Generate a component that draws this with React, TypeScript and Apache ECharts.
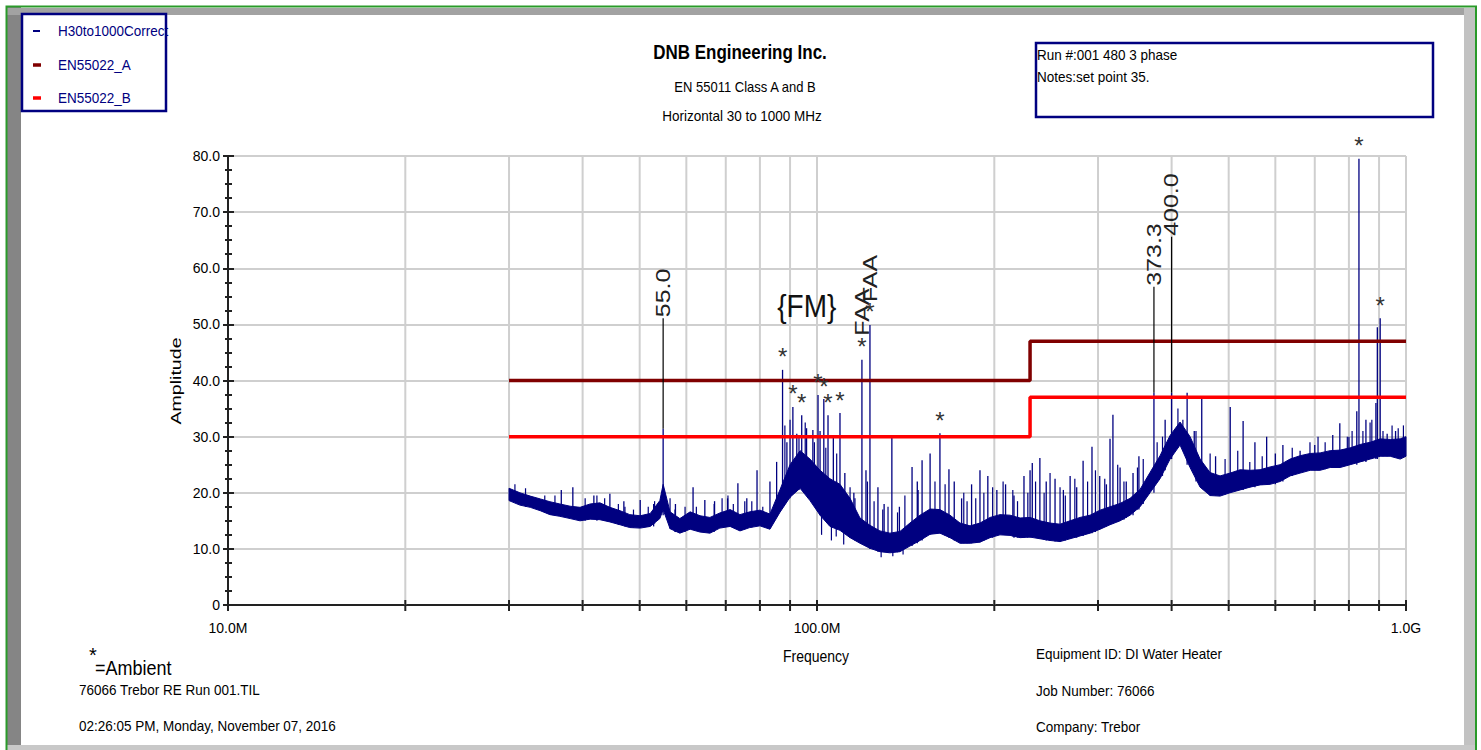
import React, { useEffect, useRef } from 'react';
import * as echarts from 'echarts';

const FONT = '"Liberation Sans", Arial, sans-serif';

// ---- data ----
const floorFreq = [
  30.0, 31.3, 32.6, 33.9, 35.2, 36.6, 38.1, 39.6, 41.2, 42.8,
  44.5, 46.3, 48.1, 50.1, 52.1, 54.1, 54.8, 56.3, 58.5, 60.9,
  63.3, 65.8, 68.4, 71.2, 74.0, 76.9, 80.0, 83.2, 86.5, 90.0,
  93.6, 97.3, 101.2, 105.2, 109.4, 113.8, 118.3, 123.0, 127.9, 133.0,
  138.3, 143.8, 149.6, 155.6, 161.7, 168.2, 174.9, 181.9, 189.1, 196.7,
  204.5, 212.7, 221.2, 230.0, 239.1, 248.7, 258.6, 268.9, 279.6, 290.8,
  302.4, 314.4, 327.0, 340.0, 353.6, 367.6, 382.3, 397.6, 413.4, 429.9,
  447.1, 464.9, 483.4, 502.8, 522.8, 543.6, 565.3, 587.9, 611.3, 635.7,
  661.1, 687.5, 714.9, 743.4, 773.1, 803.9, 836.0, 869.4, 904.1, 940.1,
  977.6, 1000.0,
];
const floorHigh = [
  20.8, 20.0, 19.4, 18.9, 18.4, 18.0, 17.6, 17.4, 18.0, 18.2,
  17.4, 16.8, 16.1, 15.9, 16.3, 18.6, 21.5, 16.6, 15.4, 16.6,
  15.9, 15.6, 16.4, 17.0, 16.1, 16.6, 16.9, 16.2, 20.5, 25.0,
  27.5, 26.0, 24.0, 22.5, 21.5, 19.0, 15.5, 14.2, 13.2, 12.8,
  13.1, 14.6, 16.0, 17.1, 17.0, 16.0, 14.6, 14.1, 14.6, 15.6,
  16.1, 16.0, 15.5, 15.6, 15.0, 14.6, 14.4, 15.0, 15.6, 16.0,
  16.9, 17.5, 18.1, 19.0, 20.6, 23.6, 26.6, 30.2, 32.6, 30.0,
  26.0, 23.6, 23.0, 23.5, 24.1, 24.0, 24.1, 24.6, 25.0, 26.0,
  26.6, 27.0, 27.1, 27.5, 27.6, 28.0, 28.6, 29.0, 29.6, 29.5,
  29.6, 30.0,
];
const floorLow = [
  18.6, 17.8, 17.4, 16.8, 16.1, 15.8, 15.4, 15.0, 15.3, 15.2,
  14.8, 14.3, 13.8, 13.7, 14.0, 15.4, 17.0, 13.6, 12.8, 13.5,
  13.0, 12.8, 13.7, 14.0, 13.2, 13.8, 14.1, 13.5, 16.5, 19.2,
  20.8, 18.6, 16.0, 14.0, 13.3, 12.0, 11.0, 10.1, 9.5, 9.3,
  9.5, 10.5, 11.5, 12.6, 12.8, 12.0, 11.0, 11.0, 11.2, 12.0,
  12.5, 12.4, 12.0, 12.1, 11.8, 11.5, 11.3, 11.8, 12.3, 12.8,
  13.5, 14.3, 15.0, 16.0, 17.5, 20.0, 22.5, 26.0, 28.5, 24.5,
  21.0, 19.5, 19.4, 20.0, 20.5, 21.0, 21.4, 21.5, 22.0, 23.0,
  23.5, 24.0, 24.0, 24.5, 24.5, 25.0, 25.5, 26.0, 26.5, 26.5,
  26.0, 26.5,
];

// discrete emissions (MHz, dBuV/m): base of the line inside the noise floor, top = peak
const spikeFreq = [
  36.8, 38.5, 41.8, 44.5, 47.0, 50.1, 52.8, 54.8, 57.5, 61.6,
  64.5, 67.0, 70.5, 73.4, 76.0, 79.1, 83.2, 85.4, 87.4, 88.9,
  91.0, 92.4, 94.2, 96.0, 98.4, 100.4, 101.2, 102.7, 104.4, 106.6,
  109.4, 111.5, 115.5, 119.2, 121.1, 123.0, 126.9, 130.0, 134.0, 138.0,
  145.0, 148.0, 150.8, 155.6, 161.7, 167.5, 171.0, 176.0, 183.0, 189.1,
  195.0, 202.0, 209.0, 216.0, 224.6, 230.0, 232.0, 239.0, 245.0, 253.6,
  262.0, 269.0, 276.0, 283.0, 293.0, 302.0, 310.0, 314.4, 318.0, 327.0,
  335.0, 344.0, 352.0, 373.3, 390.0, 400.0, 425.0, 437.0, 450.0, 475.0,
  503.0, 529.0, 554.0, 580.0, 600.0, 618.0, 661.0, 700.0, 751.0, 772.0,
  800.0, 825.0, 832.0, 855.0, 889.0, 894.0, 904.0, 929.0, 960.0,
];
const spikeTop = [
  20.5, 21.0, 19.5, 19.8, 18.5, 18.7, 18.0, 31.4, 18.0, 21.0,
  18.7, 18.5, 19.0, 21.7, 19.0, 24.0, 22.0, 25.5, 41.9, 29.0,
  35.3, 30.5, 33.8, 31.5, 31.2, 37.4, 31.0, 36.7, 33.8, 30.0,
  34.2, 23.5, 20.0, 43.7, 24.0, 49.9, 21.0, 18.0, 30.0, 17.5,
  24.6, 22.0, 25.8, 27.0, 30.6, 24.2, 22.0, 19.0, 21.5, 24.0,
  23.0, 20.5, 21.5, 19.5, 23.0, 24.0, 25.3, 26.2, 22.0, 22.5,
  20.5, 23.0, 21.0, 25.7, 28.2, 23.0, 21.5, 29.6, 33.9, 24.5,
  22.0, 23.5, 26.5, 37.8, 33.0, 37.8, 37.8, 31.0, 37.0, 26.5,
  35.3, 32.8, 29.0, 30.0, 27.0, 28.5, 27.5, 28.5, 30.3, 32.4,
  30.0, 34.5, 79.5, 33.0, 36.0, 49.5, 51.1, 30.5, 31.0,
];
const spikeBase = [
  16.0, 15.5, 15.5, 15.0, 14.5, 14.0, 14.0, 16.0, 13.0, 13.5,
  13.0, 13.5, 14.0, 13.5, 14.0, 14.5, 14.0, 16.0, 20.0, 20.0,
  21.0, 21.0, 21.0, 20.0, 19.0, 17.0, 16.0, 16.0, 15.0, 14.0,
  13.5, 13.0, 12.0, 11.0, 10.5, 10.0, 9.5, 9.5, 9.5, 9.5,
  10.5, 11.0, 11.5, 12.5, 12.8, 12.0, 11.5, 11.0, 11.0, 11.2,
  12.0, 12.5, 12.5, 12.0, 12.0, 12.0, 12.0, 11.8, 11.5, 11.3,
  11.5, 11.8, 12.0, 12.3, 12.8, 13.5, 14.0, 14.3, 14.5, 15.0,
  15.5, 16.0, 17.0, 20.0, 24.0, 26.0, 25.0, 24.0, 21.0, 19.5,
  20.0, 20.5, 21.0, 21.5, 21.5, 22.0, 23.5, 24.0, 24.5, 24.5,
  25.0, 25.0, 25.5, 25.5, 26.0, 26.0, 26.5, 26.5, 26.5,
];

// short noise peaks and dips of the trace (from -> to, dBuV/m)
const noiseFreq = [
  30.7, 32.0, 34.5, 35.9, 40.4, 42.3, 43.6, 46.0, 47.2, 48.8,
  51.7, 53.0, 56.3, 57.4, 59.7, 62.4, 66.9, 69.0, 70.6, 72.1,
  75.4, 77.5, 80.9, 88.2, 90.0, 93.2, 95.5, 99.0, 103.5, 108.0,
  113.8, 116.0, 121.8, 125.0, 129.3, 132.0, 137.0, 141.0, 148.5, 158.6,
  165.0, 177.5, 179.8, 186.0, 192.0, 198.7, 207.0, 215.0, 219.0, 228.0,
  235.0, 243.0, 248.7, 258.6, 264.0, 274.0, 288.0, 297.0, 308.0, 324.0,
  332.0, 350.0, 358.0, 378.0, 386.0, 410.0, 418.0, 440.0, 465.0, 493.0,
  518.0, 543.0, 570.0, 641.0, 687.0, 709.0, 729.0, 795.0, 810.0, 845.0,
  869.0, 875.0, 914.0, 947.0, 970.0, 990.0,
  101.8, 105.8, 107.8, 111.0, 128.5, 134.5, 140.0,
];
const noiseTo = [
  21.5, 20.8, 19.5, 19.5, 19.0, 19.5, 19.0, 18.0, 17.5, 17.0,
  17.5, 18.5, 19.0, 17.0, 17.5, 17.5, 18.0, 19.0, 19.5, 18.0,
  18.5, 18.5, 17.5, 32.0, 33.0, 30.0, 32.5, 29.0, 28.0, 27.0,
  21.0, 19.0, 22.0, 18.5, 17.0, 17.5, 16.5, 19.5, 20.5, 22.0,
  21.5, 20.0, 18.5, 19.0, 20.0, 21.0, 22.0, 20.5, 18.5, 20.0,
  22.0, 20.0, 23.5, 21.0, 19.5, 22.5, 22.0, 24.0, 22.5, 25.0,
  22.0, 24.5, 26.0, 29.0, 30.0, 35.0, 33.0, 31.0, 27.0, 26.0,
  27.5, 25.5, 26.5, 28.0, 29.0, 30.0, 29.0, 30.0, 31.0, 31.0,
  32.5, 33.0, 31.0, 32.0, 31.5, 32.0,
  12.5, 11.5, 12.2, 10.8, 8.5, 8.7, 9.0,
];
const noiseFrom = [
  18.5, 17.5, 16.5, 16.0, 15.0, 15.0, 15.0, 14.3, 14.0, 13.8,
  14.0, 14.5, 13.6, 13.0, 13.0, 13.3, 13.0, 13.8, 14.0, 13.8,
  13.5, 13.8, 14.0, 18.0, 19.0, 20.5, 20.0, 18.0, 15.0, 13.5,
  12.0, 11.5, 10.5, 10.0, 9.5, 9.3, 9.4, 10.0, 11.3, 12.7,
  12.4, 11.0, 11.0, 11.1, 11.5, 12.0, 12.5, 12.2, 12.0, 12.0,
  12.0, 11.6, 11.5, 11.3, 11.5, 12.0, 12.7, 13.0, 14.0, 14.8,
  15.2, 17.0, 18.0, 22.0, 23.0, 28.0, 28.0, 22.0, 19.5, 19.7,
  20.4, 21.0, 21.4, 23.0, 24.0, 24.0, 24.2, 25.0, 25.2, 25.6,
  26.0, 26.0, 26.5, 26.5, 26.2, 26.3,
  18.0, 17.0, 16.0, 15.0, 11.0, 11.0, 12.0,
];

const ambientFreq = [87.4, 91.0, 94.2, 100.4, 102.7, 104.4, 109.4, 119.2, 123.0, 161.7, 832.0, 904.0];
const ambientPeak = [41.9, 35.3, 33.8, 37.4, 36.7, 33.8, 34.2, 43.7, 49.9, 30.6, 79.5, 51.1];

const markerText = ['55.0', 'FAA', 'FAA', '373.3', '400.0'];
const markerFreq = [54.8, 119.2, 123.0, 373.3, 400.0];
const markerPeak = [31.4, 43.7, 49.9, 37.8, 37.8];
const markerTop = [51.1, 47.8, 53.8, 56.7, 65.6];
const markerLeader = [1, 0, 0, 1, 1];

const noteText = ['{FM}'];
const noteFreq = [96.1];
const noteAmp = [53.3];

const limitFreq = [30, 230, 230, 1000];
const limitA = [40, 40, 47, 47];
const limitB = [30, 30, 37, 37];

const xTickFreq = [10, 20, 30, 40, 50, 60, 70, 80, 90, 100, 200, 300, 400, 500, 600, 700, 800, 900, 1000];
const X_MIN = 10;
const X_MAX = 1000;
const Y_MIN = 0;
const Y_MAX = 80;
const Y_STEP = 10;

const NAVY = '#000080';

function txt(x: number, y: number, text: string, o: any = {}) {
  return {
    type: 'text',
    x,
    y,
    z: 10,
    rotation: o.rotation || 0,
    scaleX: o.sx || 1,
    scaleY: o.sy || 1.15,
    silent: true,
    style: {
      text,
      fill: o.fill || '#000',
      fontSize: o.size || 13.5,
      fontFamily: FONT,
      fontWeight: o.bold ? 'bold' : 'normal',
      align: o.align || 'left',
      verticalAlign: 'middle',
    },
  };
}

function buildOption() {
  const graphic: any[] = [
    // window frame
    { type: 'rect', z: 1, shape: { x: 7, y: 7, width: 14, height: 743 }, style: { fill: '#858585' }, silent: true },
    { type: 'rect', z: 1, shape: { x: 7, y: 8, width: 1468, height: 7 }, style: { fill: '#a2a2a2' }, silent: true },
    { type: 'rect', z: 1, shape: { x: 1464, y: 8, width: 11, height: 742 }, style: { fill: '#c2c2c2' }, silent: true },
    { type: 'rect', z: 1, shape: { x: 7, y: 745, width: 1468, height: 5 }, style: { fill: '#c8c8c8' }, silent: true },
    { type: 'polyline', z: 2, shape: { points: [[6.5, 750], [6.5, 6.5], [1476, 6.5], [1476, 750]] }, style: { fill: 'none', stroke: '#2a9a2a', lineWidth: 2 }, silent: true },
    // legend box
    { type: 'rect', z: 3, shape: { x: 22, y: 14, width: 144, height: 97 }, style: { fill: '#fff', stroke: NAVY, lineWidth: 2.5 }, silent: true },
    { type: 'line', z: 4, shape: { x1: 33, y1: 31, x2: 40, y2: 31 }, style: { stroke: NAVY, lineWidth: 2 }, silent: true },
    { type: 'line', z: 4, shape: { x1: 33, y1: 65, x2: 41, y2: 65 }, style: { stroke: '#800000', lineWidth: 3.5 }, silent: true },
    { type: 'line', z: 4, shape: { x1: 33, y1: 98, x2: 41, y2: 98 }, style: { stroke: '#ff0000', lineWidth: 3.5 }, silent: true },
    txt(58, 31, 'H30to1000Correct', { fill: NAVY }),
    txt(58, 65, 'EN55022_A', { fill: NAVY }),
    txt(58, 98, 'EN55022_B', { fill: NAVY }),
    // titles
    txt(740, 52, 'DNB Engineering Inc.', { size: 17, bold: true, align: 'center', sy: 1.2 }),
    txt(745, 87, 'EN 55011 Class A and B', { size: 13, align: 'center' }),
    txt(742, 116, 'Horizontal 30 to 1000 MHz', { size: 13.5, align: 'center' }),
    // notes box
    { type: 'rect', z: 3, shape: { x: 1036, y: 43, width: 397, height: 74 }, style: { fill: 'none', stroke: NAVY, lineWidth: 2.5 }, silent: true },
    txt(1037, 55, 'Run #:001 480 3 phase'),
    txt(1037, 77, 'Notes:set point 35.'),
    // axis titles
    txt(176, 381, 'Amplitude', { size: 14, align: 'center', rotation: Math.PI / 2, sx: 1.4, sy: 1 }),
    txt(816, 656, 'Frequency', { size: 14, align: 'center' }),
    // footer
    txt(89, 655, '*', { size: 20, sy: 1 }),
    txt(95, 668, '=Ambient', { size: 18 }),
    txt(79, 690, '76066 Trebor RE Run 001.TIL'),
    txt(79, 726, '02:26:05 PM, Monday, November 07, 2016'),
    txt(1036, 654, 'Equipment ID: DI Water Heater'),
    txt(1036, 691, 'Job Number: 76066'),
    txt(1036, 727, 'Company: Trebor'),
  ];

  const tickStyle = { color: '#222', width: 2 };

  const vline = (api: any, f: number, a: number, b: number, color: string, w: number) => {
    const p = api.coord([f, a]);
    const q = api.coord([f, b]);
    return { type: 'line', shape: { x1: p[0], y1: p[1], x2: q[0], y2: q[1] }, style: { stroke: color, lineWidth: w } };
  };

  return {
    animation: false,
    backgroundColor: '#ffffff',
    grid: { left: 228, right: 75, top: 156, bottom: 145 },
    xAxis: {
      type: 'log',
      logBase: 10,
      min: X_MIN,
      max: X_MAX,
      axisLine: { lineStyle: { color: '#222', width: 2 } },
      axisTick: { show: false },
      splitLine: { show: false },
      axisLabel: {
        margin: 16,
        color: '#000',
        fontSize: 14,
        fontFamily: FONT,
        formatter: (v: number) => (v >= 1000 ? (v / 1000).toFixed(1) + 'G' : v.toFixed(1) + 'M'),
      },
    },
    yAxis: [
      {
        type: 'value',
        min: Y_MIN,
        max: Y_MAX,
        interval: Y_STEP,
        axisLine: { show: true, lineStyle: { color: '#222', width: 2 } },
        axisTick: { show: true, length: 5, lineStyle: tickStyle },
        minorTick: { show: true, splitNumber: 4, length: 3, lineStyle: tickStyle },
        splitLine: { show: true, lineStyle: { color: '#cfcfcf', width: 2 } },
        axisLabel: {
          margin: 8,
          color: '#000',
          fontSize: 14,
          fontFamily: FONT,
          formatter: (v: number) => (v === 0 ? '0' : v.toFixed(1)),
        },
      },
      {
        type: 'value',
        position: 'left',
        min: Y_MIN,
        max: Y_MAX,
        interval: Y_STEP,
        axisLine: { show: false },
        axisTick: { show: true, inside: true, length: 6, lineStyle: tickStyle },
        minorTick: { show: true, splitNumber: 4, length: 4, lineStyle: tickStyle },
        splitLine: { show: false },
        axisLabel: { show: false },
      },
    ],
    graphic,
    series: [
      {
        name: 'grid',
        type: 'custom',
        silent: true,
        z: 1,
        data: xTickFreq.map((f) => [f, Y_MIN]),
        renderItem: (params: any, api: any) => {
          const f = api.value(0);
          const bot = api.coord([f, Y_MIN]);
          const children: any[] = [];
          if (f !== X_MIN) children.push(vline(api, f, Y_MIN, Y_MAX, '#cfcfcf', 2));
          children.push({ type: 'line', shape: { x1: bot[0], y1: bot[1] - 5, x2: bot[0], y2: bot[1] + 6 }, style: { stroke: '#222', lineWidth: 2 } });
          return { type: 'group', children };
        },
      },
      {
        name: 'H30to1000Correct',
        type: 'custom',
        silent: true,
        z: 2,
        data: floorFreq.map((f, i) => [f, floorLow[i], floorHigh[i]]),
        renderItem: (params: any, api: any) => {
          if (params.dataIndex !== 0) return null;
          const pts: number[][] = [];
          for (let i = 0; i < floorFreq.length; i++) pts.push(api.coord([floorFreq[i], floorHigh[i]]));
          for (let i = floorFreq.length - 1; i >= 0; i--) pts.push(api.coord([floorFreq[i], floorLow[i]]));
          return { type: 'polygon', shape: { points: pts }, style: { fill: NAVY, stroke: NAVY, lineWidth: 1 } };
        },
      },
      {
        name: 'noise',
        type: 'custom',
        silent: true,
        z: 3,
        data: noiseFreq.map((f, i) => [f, noiseFrom[i], noiseTo[i]]),
        renderItem: (params: any, api: any) => vline(api, api.value(0), api.value(1), api.value(2), NAVY, 1.2),
      },
      {
        name: 'spikes',
        type: 'custom',
        silent: true,
        z: 3,
        data: spikeFreq.map((f, i) => [f, spikeBase[i], spikeTop[i]]),
        renderItem: (params: any, api: any) => vline(api, api.value(0), api.value(1), api.value(2), NAVY, 1.3),
      },
      {
        name: 'EN55022_A',
        type: 'line',
        z: 4,
        showSymbol: false,
        symbol: 'none',
        silent: true,
        data: limitFreq.map((f, i) => [f, limitA[i]]),
        lineStyle: { color: '#800000', width: 3.5 },
        itemStyle: { color: '#800000' },
      },
      {
        name: 'EN55022_B',
        type: 'line',
        z: 4,
        showSymbol: false,
        symbol: 'none',
        silent: true,
        data: limitFreq.map((f, i) => [f, limitB[i]]),
        lineStyle: { color: '#ff0000', width: 3.5 },
        itemStyle: { color: '#ff0000' },
      },
      {
        name: 'markers',
        type: 'custom',
        silent: true,
        z: 5,
        data: markerFreq.map((f, i) => [f, markerPeak[i], markerTop[i], markerLeader[i]]),
        renderItem: (params: any, api: any) => {
          const i = params.dataIndex;
          const q = api.coord([api.value(0), api.value(2)]);
          const children: any[] = [];
          if (api.value(3)) children.push(vline(api, api.value(0), api.value(1), api.value(2), '#000', 1.2));
          children.push({
            type: 'text',
            x: q[0],
            y: q[1] - 1,
            rotation: Math.PI / 2,
            scaleX: 1.25,
            style: { text: markerText[i], fill: '#222', fontSize: 20, fontFamily: FONT, align: 'left', verticalAlign: 'middle' },
          });
          return { type: 'group', children };
        },
      },
      {
        name: 'ambient',
        type: 'custom',
        silent: true,
        z: 5,
        data: ambientFreq.map((f, i) => [f, ambientPeak[i]]),
        renderItem: (params: any, api: any) => {
          const p = api.coord([api.value(0), api.value(1)]);
          return {
            type: 'text',
            x: p[0],
            y: p[1] - 1,
            style: { text: '*', fill: '#333', fontSize: 24, fontFamily: FONT, align: 'center', verticalAlign: 'bottom' },
          };
        },
      },
      {
        name: 'notes',
        type: 'custom',
        silent: true,
        z: 5,
        data: noteFreq.map((f, i) => [f, noteAmp[i]]),
        renderItem: (params: any, api: any) => {
          const p = api.coord([api.value(0), api.value(1)]);
          return {
            type: 'text',
            x: p[0],
            y: p[1],
            scaleY: 1.15,
            style: { text: noteText[params.dataIndex], fill: '#111', fontSize: 28, fontFamily: FONT, align: 'center', verticalAlign: 'middle' },
          };
        },
      },
    ],
  };
}

export default function App() {
  const ref = useRef<HTMLDivElement>(null);
  useEffect(() => {
    if (!ref.current) return;
    const chart = echarts.init(ref.current, null, { renderer: 'svg' });
    chart.setOption(buildOption() as any);
    return () => chart.dispose();
  }, []);
  return (
    <div
      ref={ref}
      style={{ position: 'absolute', left: 0, top: 0, width: 1481, height: 750, background: '#fff' }}
    />
  );
}
